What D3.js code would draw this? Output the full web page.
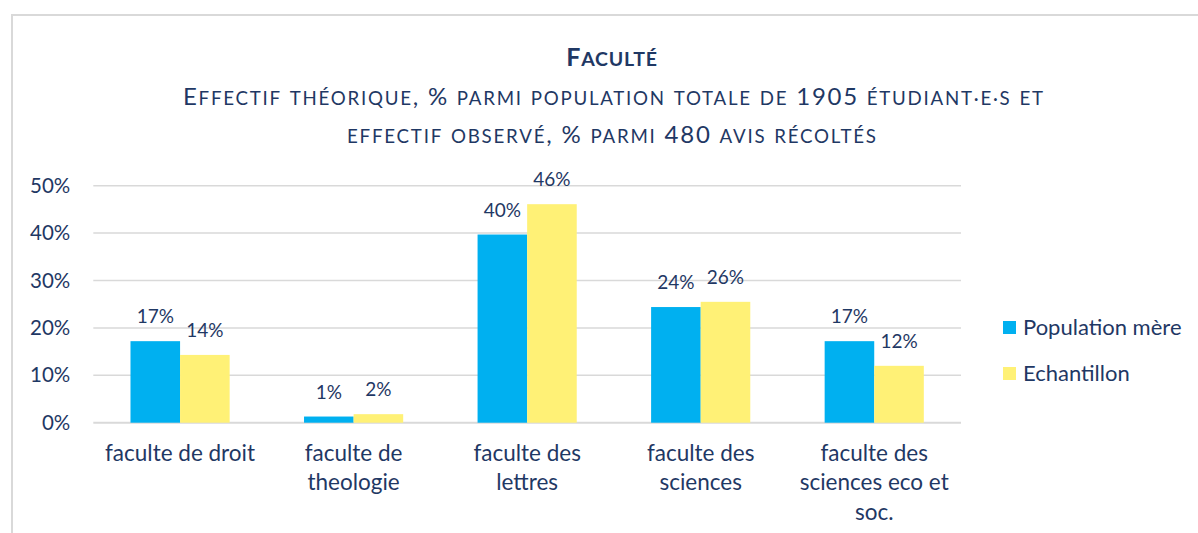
<!DOCTYPE html>
<html>
<head>
<meta charset="utf-8">
<script src="https://cdn.jsdelivr.net/npm/d3@7"></script>
<style>
  body { margin: 0; background: #fff; }
  text { font-family: Lato, 'Noto Sans', sans-serif; fill: #1f3864; }
</style>
</head>
<body>
<div id="chart-area"></div>
<script>
//values, in %
let categories = ['faculte de droit', 'faculte de theologie', 'faculte des lettres', 'faculte des sciences', 'faculte des sciences eco et soc.'];
let categoryLines = [['faculte de droit'], ['faculte de', 'theologie'], ['faculte des', 'lettres'], ['faculte des', 'sciences'], ['faculte des', 'sciences eco et', 'soc.']];
let seriesNames = ['Population mère', 'Echantillon'];
let populationMere = [17.2, 1.3, 39.7, 24.4, 17.2];
let echantillon = [14.3, 1.8, 46.1, 25.5, 12.0];
let yTicks = [0, 10, 20, 30, 40, 50];
let titleText = 'Faculté';
let subtitleLines = ['Effectif théorique, % parmi population totale de 1905 étudiant·e·s et', 'effectif observé, % parmi 480 avis récoltés'];

let width = 1198;
let height = 533;
let plot = { left: 93.3, right: 961, top: 185.7, bottom: 422.7 };
let colors = ['#00b0f0', '#fff176'];
let textColor = '#1f3864';

let seriesValues = [populationMere, echantillon];

//fake small caps: lowercase runs become smaller uppercase tspans
function smallCaps(sel, str, size, ratio) {
  let runs = str.match(/([a-zà-ÿ·]+)|([^a-zà-ÿ·]+)/g);
  runs.forEach((r) => {
    let lower = /[a-zà-ÿ·]/.test(r);
    sel
      .append('tspan')
      .style('font-size', (lower ? size * ratio : size) + 'px')
      .text(lower ? r.toUpperCase() : r);
  });
}

let chart = d3
  .select('#chart-area')
  .append('svg')
  .attr('width', width)
  .attr('height', height);

//chart frame (only top-left part is visible)
chart
  .append('rect')
  .attr('x', 12)
  .attr('y', 15)
  .attr('width', 1300)
  .attr('height', 700)
  .attr('fill', 'none')
  .attr('stroke', '#d9d9d9')
  .attr('stroke-width', 2);

//scales
let x = d3
  .scaleBand()
  .domain(categories)
  .range([plot.left, plot.right])
  .paddingInner(1.5 / 3.5)
  .paddingOuter(0.75 / 3.5);

let xSub = d3.scaleBand().domain(seriesNames).range([0, x.bandwidth()]);

let y = d3.scaleLinear().domain([0, 50]).range([plot.bottom, plot.top]);

//title
let titles = chart.append('g').attr('text-anchor', 'middle');
titles
  .append('text')
  .attr('x', 612)
  .attr('y', 65.7)
  .style('font-weight', 'bold')
  .style('letter-spacing', '0.8px')
  .call((t) => smallCaps(t, titleText, 25, 0.78));

//subtitle, stretched to the width of the original small caps lines
let subtitleWidths = [860, 529];
titles
  .selectAll('.subtitle')
  .data(subtitleLines)
  .enter()
  .append('text')
  .attr('class', 'subtitle')
  .attr('x', (d, i) => (i === 0 ? 613 : 611.5))
  .attr('y', (d, i) => 104.5 + i * 38.7)
  .attr('textLength', (d, i) => subtitleWidths[i])
  .attr('lengthAdjust', 'spacing')
  .each(function (d) {
    smallCaps(d3.select(this), d, 24, 0.78);
  });

//gridlines
chart
  .append('g')
  .selectAll('line')
  .data(yTicks)
  .enter()
  .append('line')
  .attr('x1', plot.left)
  .attr('x2', plot.right)
  .attr('y1', (d) => y(d))
  .attr('y2', (d) => y(d))
  .attr('stroke', '#d9d9d9')
  .attr('stroke-width', (d) => (d === 0 ? 2 : 1.5));

//y axis labels
let yAxis = chart
  .append('g')
  .attr('transform', `translate(${plot.left - 23}, 0)`)
  .call(
    d3
      .axisLeft(y)
      .tickValues(yTicks)
      .tickSize(0)
      .tickPadding(0)
      .tickFormat((d) => d + '%'),
  );
yAxis.select('.domain').remove();
yAxis
  .selectAll('text')
  .attr('fill', textColor)
  .style('font-size', '20.5px')
  .style('font-family', 'Lato, sans-serif');

//bars
let groups = chart
  .append('g')
  .selectAll('g')
  .data(seriesNames)
  .enter()
  .append('g')
  .attr('fill', (d, i) => colors[i]);

groups
  .selectAll('rect')
  .data((s, si) => categories.map((c, ci) => ({ category: c, series: s, value: seriesValues[si][ci] })))
  .enter()
  .append('rect')
  .attr('x', (d) => x(d.category) + xSub(d.series))
  .attr('width', xSub.bandwidth())
  .attr('y', (d) => y(d.value))
  .attr('height', (d) => y(0) - y(d.value));

//data labels
groups
  .selectAll('text')
  .data((s, si) => categories.map((c, ci) => ({ category: c, series: s, value: seriesValues[si][ci] })))
  .enter()
  .append('text')
  .attr('x', (d) => x(d.category) + xSub(d.series) + xSub.bandwidth() / 2)
  .attr('y', (d) => y(d.value) - 18)
  .attr('text-anchor', 'middle')
  .style('font-size', '19px')
  .text((d) => d3.format('.0f')(d.value) + '%');

//x axis labels
let xLabels = chart
  .append('g')
  .selectAll('text')
  .data(categories)
  .enter()
  .append('text')
  .attr('text-anchor', 'middle')
  .attr('x', (d) => x(d) + x.bandwidth() / 2)
  .attr('y', 461)
  .style('font-size', '22.5px');

xLabels
  .selectAll('tspan')
  .data((d, i) => categoryLines[i])
  .enter()
  .append('tspan')
  .attr('x', function () {
    return d3.select(this.parentNode).attr('x');
  })
  .attr('dy', (d, i) => (i === 0 ? 0 : 29.3))
  .text((d) => d);

//legend
let legend = chart
  .append('g')
  .selectAll('g')
  .data(seriesNames)
  .enter()
  .append('g')
  .attr('transform', (d, i) => `translate(1003, ${321 + i * 46})`);

legend
  .append('rect')
  .attr('width', 13)
  .attr('height', 13)
  .attr('fill', (d, i) => colors[i]);

legend
  .append('text')
  .attr('x', 20)
  .attr('y', 14)
  .style('font-size', '22px')
  .text((d) => d);
</script>
</body>
</html>
